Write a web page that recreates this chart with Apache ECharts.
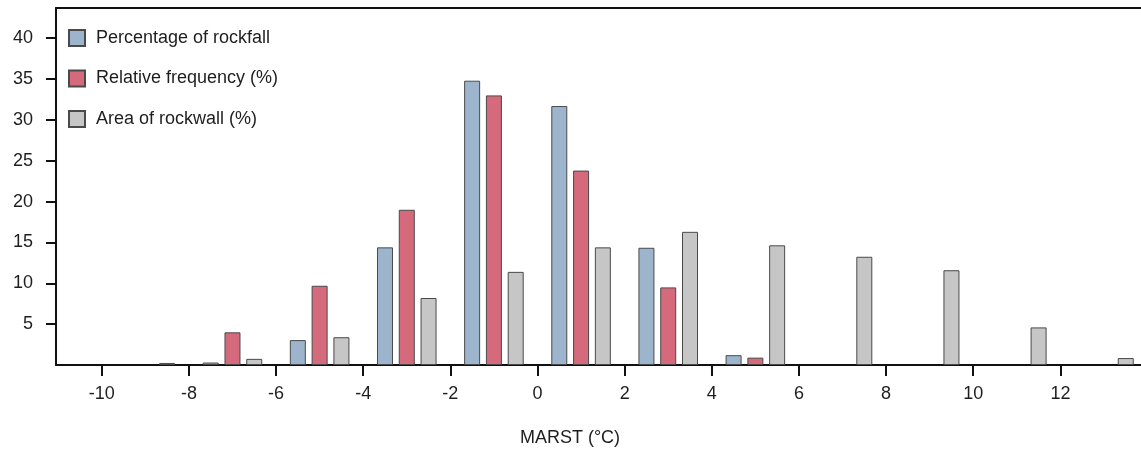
<!DOCTYPE html>
<html>
<head>
<meta charset="utf-8">
<script src="https://cdn.jsdelivr.net/npm/echarts@6/dist/echarts.min.js"></script>
<style>html,body{margin:0;padding:0;background:#fff}#c{width:1141px;height:450px}</style>
</head>
<body>
<div id="c"></div>
<script>
// MARST bin centers (°C)
const binCenters = [-9, -7, -5, -3, -1, 1, 3, 5, 7, 9, 11, 13];
const rockfallPct = [0, 0.3, 3.05, 14.4, 34.8, 31.7, 14.35, 1.2, 0, 0, 0, 0];
const relFreq     = [0, 4.0, 9.7, 19.0, 33.0, 23.8, 9.5, 0.9, 0, 0, 0, 0];
const rockwallPct = [0.25, 0.75, 3.4, 8.2, 11.4, 14.4, 16.3, 14.65, 13.25, 11.6, 4.6, 0.85];
const xTicks = [-10, -8, -6, -4, -2, 0, 2, 4, 6, 8, 10, 12];
const yTicks = [5, 10, 15, 20, 25, 30, 35, 40];
const offsets = [-0.5, 0, 0.5];

function pairs(vals, off) {
  return binCenters.map((c, i) => [c + off, vals[i]]).filter(p => p[1] > 0);
}
const font = 'Liberation Sans, Arial, sans-serif';
const txt = '#1e1e1e';
const chart = echarts.init(document.getElementById('c'));
const mk = (name, vals, off, color) => ({
  name, type: 'bar', data: pairs(vals, off), barWidth: 16, barGap: '-100%',
  itemStyle: { color, borderColor: '#4a4a4a', borderWidth: 1 }
});
chart.setOption({
  animation: false,
  grid: { left: 56, right: 0, top: 8, bottom: 85 },
  legend: {
    orient: 'vertical', left: 63, top: 24, itemWidth: 16, itemHeight: 16, itemGap: 22.5,
    icon: 'rect',
    textStyle: { fontFamily: font, fontSize: 18, color: txt, padding: [0, 0, 0, 6] },
    data: ['Percentage of rockfall', 'Relative frequency (%)', 'Area of rockwall (%)']
  },
  xAxis: [{
    type: 'value', min: -11.05, max: 13.85,
    axisLine: { onZero: false, lineStyle: { color: '#111', width: 2 } },
    axisTick: { show: true, length: 11, lineStyle: { color: '#111', width: 2 }, customValues: xTicks },
    axisLabel: { fontFamily: font, fontSize: 18, color: txt, margin: 20, customValues: xTicks },
    splitLine: { show: false }
  }, {
    type: 'value', position: 'top', min: -11.05, max: 13.85,
    axisLine: { show: true, onZero: false, lineStyle: { color: '#111', width: 2 } },
    axisTick: { show: false }, axisLabel: { show: false }, splitLine: { show: false }
  }],
  yAxis: {
    type: 'value', min: 0, max: 43.7,
    axisLine: { show: true, onZero: false, lineStyle: { color: '#111', width: 2 } },
    axisTick: { show: true, length: 10, lineStyle: { color: '#111', width: 2 }, customValues: yTicks },
    axisLabel: { fontFamily: font, fontSize: 18, color: txt, margin: 23, customValues: yTicks },
    splitLine: { show: false }
  },
  graphic: [{
    type: 'text', x: 570, y: 438,
    style: { text: 'MARST (°C)', fontFamily: font, fontSize: 18, fill: txt, align: 'center', verticalAlign: 'middle' }
  }],
  series: [
    mk('Percentage of rockfall', rockfallPct, offsets[0], '#9db4cd'),
    mk('Relative frequency (%)', relFreq, offsets[1], '#d46a7b'),
    mk('Area of rockwall (%)', rockwallPct, offsets[2], '#c6c6c6')
  ]
});
</script>
</body>
</html>
